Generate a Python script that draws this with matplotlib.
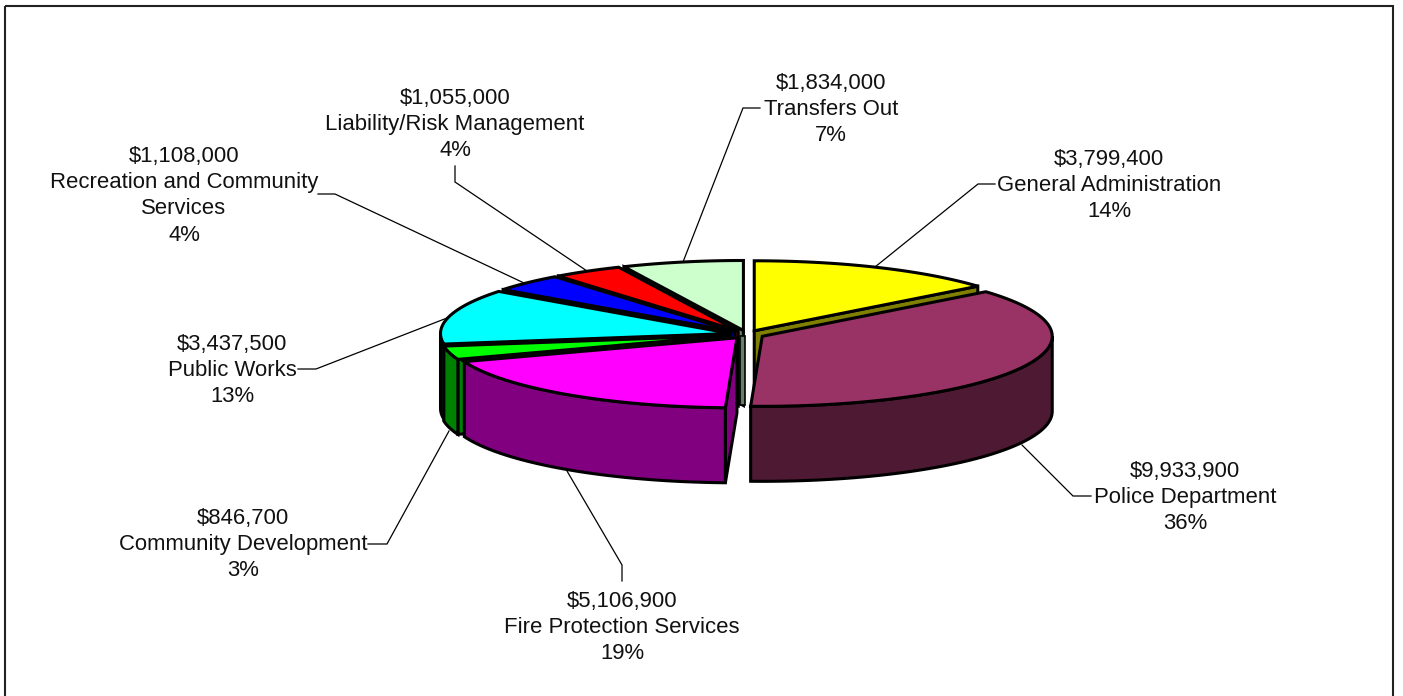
import numpy as np
import matplotlib
matplotlib.use("Agg")
import matplotlib.pyplot as plt
from matplotlib.patches import Polygon, Rectangle

plt.rcParams["font.family"] = ["Liberation Sans", "DejaVu Sans"]

# Budget by department, clockwise from 12 o'clock
departments = [
    "General Administration",
    "Police Department",
    "Fire Protection Services",
    "Community Development",
    "Public Works",
    "Recreation and Community\nServices",
    "Liability/Risk Management",
    "Transfers Out",
]
amounts = [3799400, 9933900, 5106900, 846700, 3437500, 1108000, 1055000, 1834000]
percents = [14, 36, 19, 3, 13, 4, 4, 7]

top_colors = ["#FFFF00", "#993366", "#FF00FF", "#00FF00", "#00FFFF", "#0000FF", "#FF0000", "#CCFFCC"]
side_colors = ["#808000", "#4D1933", "#800080", "#008000", "#008080", "#000080", "#800000", "#668066"]

# Label centre (x, baseline y of first line) and leader polyline, per slice, in pixels
label_pos = [(1109, 165), (1185, 477), (622, 607), (243, 524), (232, 350), (184, 162), (455, 104), (831, 89)]
leaders = [
    [(995, 184), (978, 184), (875, 267)],
    [(1091, 496), (1073, 496), (1022, 445)],
    [(622, 581), (622, 565), (567, 471)],
    [(368, 544), (387, 544), (449, 431)],
    [(298, 369), (316, 369), (447, 318)],
    [(318, 194), (335, 194), (524, 283)],
    [(455, 166), (455, 182), (587, 271)],
    [(760, 108), (743, 108), (683, 262)],
]

# Pie geometry in pixels
CX, CY = 747, 334.5
RX, RY = 290, 70
DEPTH = 75
EXPLODE = 17
EDGE = 2.2

fig = plt.figure(figsize=(14.03, 6.96), dpi=100)
ax = fig.add_axes([0, 0, 1, 1])
ax.set_xlim(0, 1403)
ax.set_ylim(696, 0)
ax.axis("off")

# Chart area border, its bottom side runs off the image
ax.add_patch(Rectangle((5, 6), 1388, 700, fill=False, ec="#222222", lw=1.5, zorder=0))


def rim(apex, angles):
    # points on the slice rim, angles in degrees clockwise from the top
    t = np.radians(angles)
    return np.column_stack([apex[0] + RX * np.sin(t), apex[1] - RY * np.cos(t)])


def slice_apex(i):
    return (CX + EXPLODE * np.sin(mids[i]), CY - EXPLODE * RY / RX * np.cos(mids[i]))


def draw_poly(points, color, lw=EDGE):
    ax.add_patch(Polygon(points, closed=True, fc=color, ec="black", lw=lw, joinstyle="miter"))


sizes = np.array(amounts) / sum(amounts) * 360
ends = np.cumsum(sizes)
starts = ends - sizes
mids = np.radians((starts + ends) / 2)

# Slices go back to front so the nearer ones overlap the others
draw_order = [7, 0, 6, 5, 4, 3, 1, 2]

for i in draw_order:
    # the last slice's cut at 12 o'clock is seen nearly edge-on, it shows as a thin
    # strip in front of the rear slices and behind the two big front ones
    if i == 1:
        ax_x, ax_y = slice_apex(7)
        strip = np.array([(ax_x - 3, ax_y + 6), (ax_x + 2, ax_y + 6),
                          (ax_x + 2, ax_y + DEPTH), (ax_x - 3, ax_y + DEPTH)])
        draw_poly(strip, side_colors[7], lw=1.2)

    apex = slice_apex(i)
    arc = rim(apex, np.linspace(starts[i], ends[i], 120))
    down = np.array([0, DEPTH])

    # cut faces, skipping the ones that turn away from the viewer
    if np.sin(np.radians(starts[i])) < 0:
        face = np.array([apex, arc[0], arc[0] + down, np.array(apex) + down])
        draw_poly(face, side_colors[i])
    if np.sin(np.radians(ends[i])) > 0:
        face = np.array([apex, arc[-1], arc[-1] + down, np.array(apex) + down])
        draw_poly(face, side_colors[i])

    # outer wall, only the part facing the viewer
    lo, hi = max(starts[i], 90), min(ends[i], 270)
    if hi > lo:
        wall = rim(apex, np.linspace(lo, hi, 120))
        draw_poly(np.vstack([wall, wall[::-1] + down]), side_colors[i])

    draw_poly(np.vstack([apex, arc]), top_colors[i])

for line in leaders:
    xs, ys = zip(*line)
    ax.plot(xs, ys, color="black", lw=0.9, solid_joinstyle="miter", zorder=5)

for name, amount, pct, (x, y) in zip(departments, amounts, percents, label_pos):
    lines = [f"${amount:,}"] + name.split("\n") + [f"{pct}%"]
    for k, line in enumerate(lines):
        ax.text(x, y + k * 26.2, line, ha="center", va="baseline", fontsize=15.9, color="#111111", zorder=6)

fig.savefig("out.png", dpi=100)
plt.close(fig)
